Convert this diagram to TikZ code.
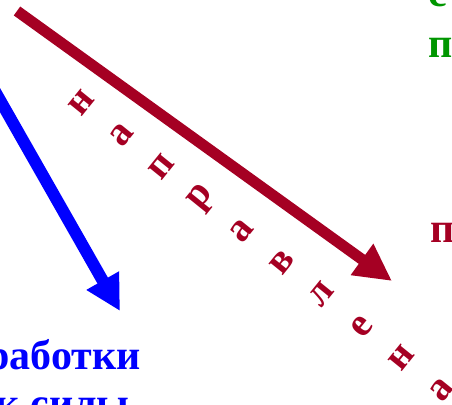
\documentclass[tikz,border=0pt]{standalone}
\usepackage{fontspec}
\setmainfont{Liberation Serif}
\usepackage{tikz}
\usetikzlibrary{arrows.meta,positioning}
\definecolor{forcered}{RGB}{165,0,35}
\definecolor{forceblue}{RGB}{0,0,255}
\definecolor{forcegreen}{RGB}{0,150,0}
\tikzset{
    redarrow/.style={forcered, line width=11pt, -{Triangle[length=37pt,width=36pt]}},
    bluearrow/.style={forceblue, line width=12pt, -{Triangle[length=35pt,width=35pt]}},
    dirletter/.style={text=forcered, font=\fontsize{40}{40}\selectfont\bfseries, rotate=51, inner sep=0pt},
    bluetext/.style={text=forceblue, font=\fontsize{42}{42}\selectfont\bfseries, inner sep=0pt},
    greentext/.style={text=forcegreen, font=\fontsize{42}{42}\selectfont\bfseries, inner sep=0pt},
    redtext/.style={text=forcered, font=\fontsize{42}{42}\selectfont\bfseries, inner sep=0pt},
}

\begin{document}
\begin{tikzpicture}[x=1pt,y=-1pt]
    \useasboundingbox (0,0) rectangle (452,404);
    \clip (0,0) rectangle (452,404);
    % arrows
    \coordinate (redA) at (17,11);
    \coordinate (redB) at (392,281);
    \draw[redarrow] (redA) -- (redB);
    \coordinate (blueA) at (-20,65);
    \coordinate (blueB) at (120,311);
    \draw[bluearrow] (blueA) -- (blueB);
    % word along the red arrow
    \foreach \ch [count=\i from 0] in {н,а,п,р,а,в,л,е,н,а}
        \node[dirletter] (let\i) at (82+40*\i, 103+31.9*\i) {\ch};
    % cut texts
    \node[greentext, anchor=base west] (gc) at (428,7) {с};
    \node[greentext, anchor=base west] (gp) at (428,57) {п};
    \node[redtext, anchor=base west] (rp) at (430,242) {п};
    \node[bluetext, anchor=base east] (work) at (141,369) {работки};
    \node[bluetext, anchor=base east] (force) at (130,417) {к силы};
\end{tikzpicture}
\end{document}
